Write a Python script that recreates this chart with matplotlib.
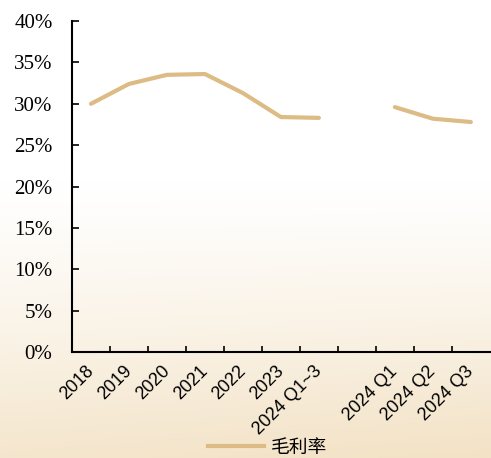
import numpy as np
import matplotlib.pyplot as plt
from matplotlib.lines import Line2D

# Dane
kategorie = ["2018", "2019", "2020", "2021", "2022", "2023", "2024 Q1~3",
             "", "2024 Q1", "2024 Q2", "2024 Q3"]
marza = [30.0, 32.4, 33.5, 33.6, 31.3, 28.4, 28.3, np.nan, 29.6, 28.2, 27.8]

kolor_linii = "#DDBB85"

fig = plt.figure(figsize=(4.91, 4.58), dpi=100)

# Tło z gradientem
tlo = fig.add_axes([0, 0, 1, 1], zorder=-1)
h, w = 200, 200
yy = np.linspace(0, 1, h)[:, None]
xx = np.linspace(0, 1, w)[None, :]
t = np.clip((yy - 0.4) / 0.6, 0, 1) ** 1.2 * (0.85 + 0.15 * xx)
gora = np.array([1.0, 1.0, 1.0])
dol = np.array([243, 226, 197]) / 255
img = gora[None, None, :] * (1 - t[..., None]) + dol[None, None, :] * t[..., None]
tlo.imshow(img, aspect="auto", extent=[0, 1, 1, 0])
tlo.axis("off")

ax = fig.add_axes([0.1466, 0.2314, 0.851, 0.7226])
ax.patch.set_alpha(0)
x = np.arange(len(kategorie))
ax.plot(x, marza, color=kolor_linii, lw=3, solid_capstyle="round")

ax.set_xlim(-0.5, len(kategorie) - 0.5)
ax.set_ylim(0, 40)
ax.set_yticks(np.arange(0, 41, 5))
ax.set_yticklabels([f"{v}%" for v in range(0, 41, 5)],
                   fontfamily="Liberation Serif", fontsize=15)
ax.set_xticks(x)
ax.set_xticklabels(kategorie, rotation=45, ha="right", va="center",
                   rotation_mode="anchor", fontfamily="Liberation Sans", fontsize=13)
ax.set_xticks(np.arange(0.5, len(kategorie) - 0.5, 1), minor=True)
ax.tick_params(axis="x", which="major", length=0, pad=12)
ax.tick_params(axis="x", which="minor", direction="in", length=4, width=1.2)
ax.tick_params(axis="y", direction="in", length=5, width=1.2, pad=14)
for s in ["top", "right"]:
    ax.spines[s].set_visible(False)
for s in ["left", "bottom"]:
    ax.spines[s].set_linewidth(1.5)

uchwyt = [Line2D([0], [0], color=kolor_linii, lw=3)]
fig.legend(uchwyt, ["毛利率"], loc="center", bbox_to_anchor=(0.545, 0.024),
           frameon=False, prop={"family": "Noto Sans CJK SC", "size": 13.5},
           handlelength=3.0, handletextpad=0.4, borderpad=0)

fig.savefig("out.png", dpi=100)
